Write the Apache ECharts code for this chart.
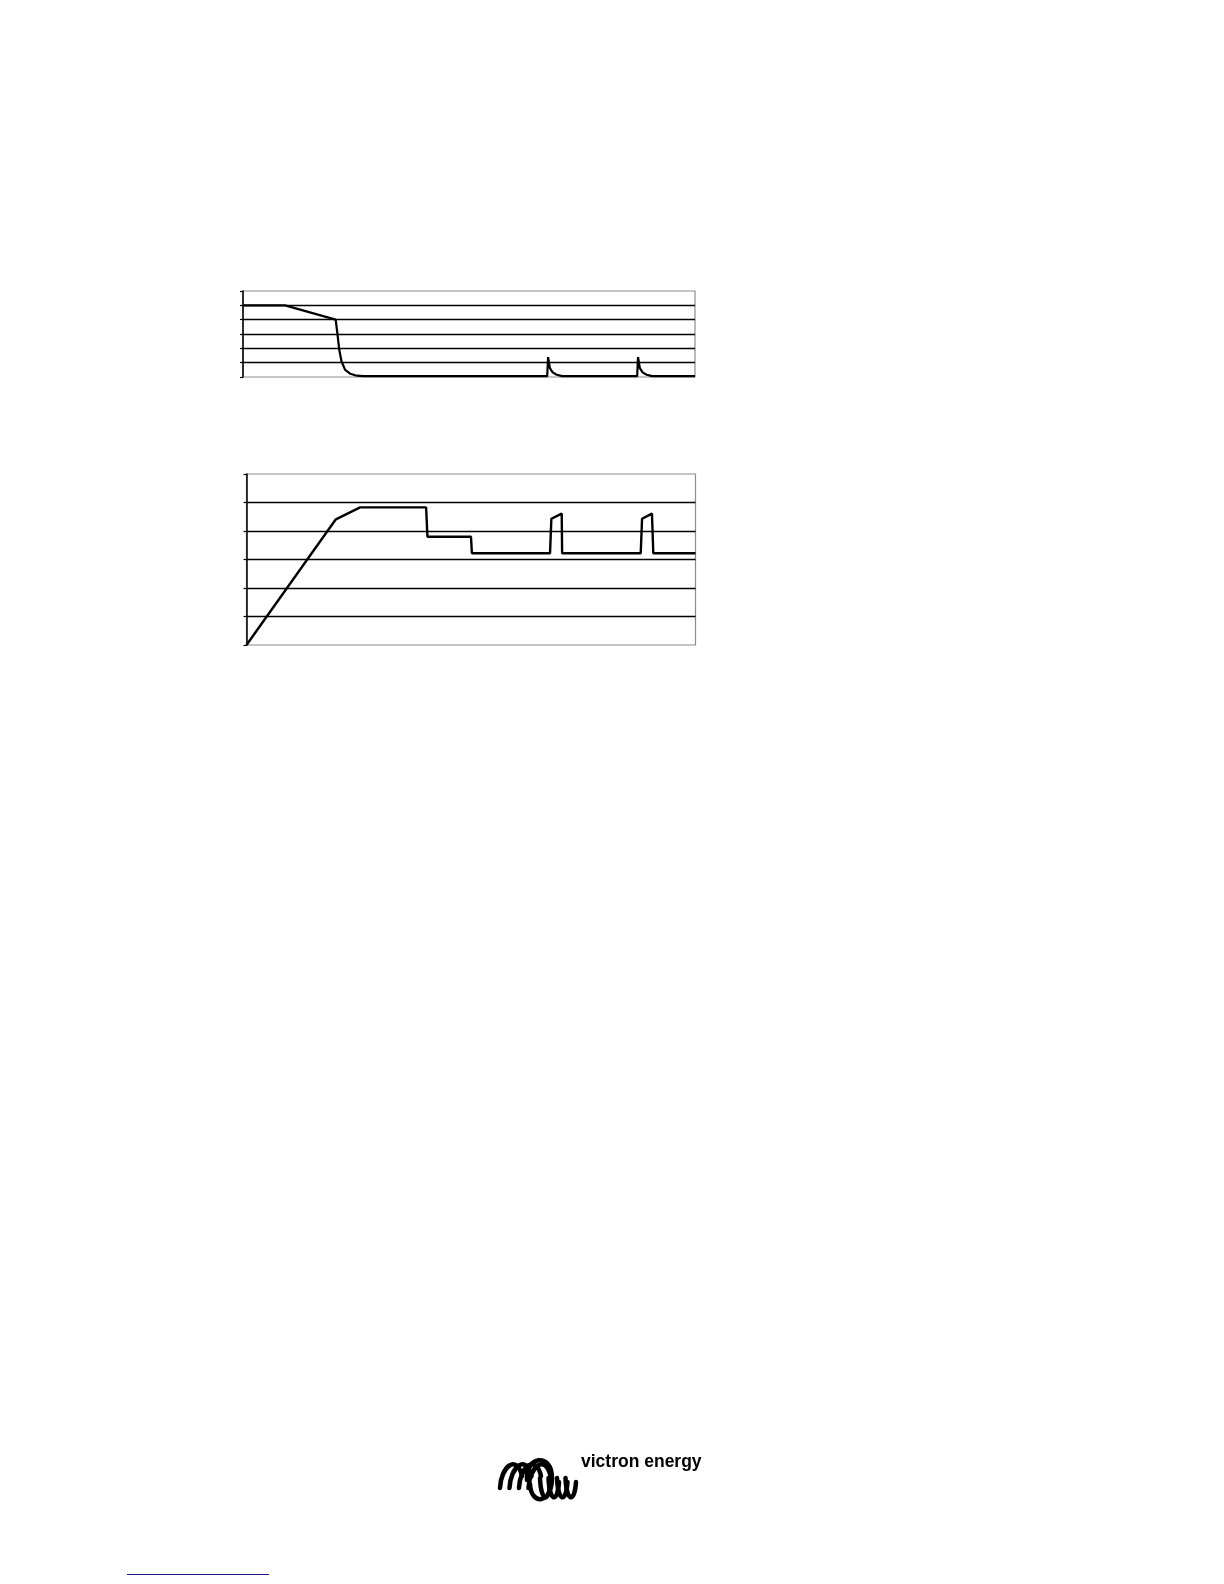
<!DOCTYPE html>
<html>
<head>
<meta charset="utf-8">
<script src="https://cdn.jsdelivr.net/npm/echarts@6/dist/echarts.min.js"></script>
<style>
html,body{margin:0;padding:0;background:#fff;}
#main{width:1224px;height:1584px;}
</style>
</head>
<body>
<div id="main"></div>
<script>
// Top chart: charge current over time (time in % of width, value in grid units)
var time1 =    [0, 9.3, 20.5, 20.9, 21.3, 21.8, 22.6, 23.7, 25.2, 26.6, 67.3, 67.5, 67.9, 68.5, 69.4, 70.6, 87.2, 87.4, 87.8, 88.4, 89.3, 90.5, 100];
var current1 = [5, 5,   4,    3.0,  1.9,  1.08, 0.5,  0.23, 0.09, 0.06, 0.06, 1.39, 0.62, 0.32, 0.16, 0.06, 0.06, 1.39, 0.62, 0.32, 0.16, 0.06, 0.06];

// Bottom chart: charge voltage over time
var time2 =    [0, 19.9, 25.3, 40.0, 40.3, 50.0, 50.2, 67.6, 67.9, 70.2, 70.3, 87.8, 88.1, 90.3, 90.6, 100];
var voltage2 = [0, 4.41, 4.83, 4.83, 3.8,  3.8,  3.22, 3.22, 4.43, 4.61, 3.22, 3.22, 4.43, 4.61, 3.22, 3.22];

var yTicks = [0, 1, 2, 3, 4, 5, 6];

function pairs(xs, ys){ return xs.map(function(x,i){ return [x, ys[i]]; }); }

var chart = echarts.init(document.getElementById('main'), null, {renderer:'canvas'});

function yAxis(idx){
  return {
    type:'value', gridIndex: idx, min: yTicks[0], max: yTicks[yTicks.length-1], interval: 1,
    axisLabel:{show:false},
    axisLine:{show:true, lineStyle:{color:'#000', width:1.5}},
    axisTick:{show:true, inside:false, length:3, lineStyle:{color:'#000', width:1.2}},
    splitLine:{show:true, showMinLine:false, showMaxLine:false, lineStyle:{color:'#000', width:1.4}}
  };
}
function xAxis(idx){
  return {
    type:'value', gridIndex: idx, min:0, max:100,
    axisLabel:{show:false}, axisLine:{show:false}, axisTick:{show:false}, splitLine:{show:false}
  };
}

// Victron coil logo (decorative)
var logo = [];
function curve(x1, y1, c1x, c1y, c2x, c2y, x2, y2) {
  logo.push({type:'bezierCurve', shape:{x1:x1, y1:y1, cpx1:c1x, cpy1:c1y, cpx2:c2x, cpy2:c2y, x2:x2, y2:y2},
    style:{stroke:'#000', lineWidth:4.5, fill:null, lineCap:'round'}, z:10});
}
var dy = 18;
for (var i = 0; i < 4; i++) {
  var x0 = 500 + 9.5 * i;
  curve(x0, 1470 + dy, x0 + 1, 1448 + dy, x0 + 17, 1436 + dy, x0 + 22, 1458 + dy);
}
curve(527, 1462 + dy, 525, 1438 + dy, 552, 1434 + dy, 552, 1460 + dy);
curve(552, 1460 + dy, 552, 1486 + dy, 531, 1488 + dy, 530, 1466 + dy);
for (var j = 0; j < 4; j++) {
  var x1 = 540 + 8.5 * j;
  curve(x1, 1460 + dy, x1 + 1, 1484 + dy, x1 + 9, 1486 + dy, x1 + 10.5, 1464 + dy);
}
logo.push({type:'text', style:{text:'victron energy', x:581, y:1462, font:'bold 17.5px "Liberation Sans", Arial, sans-serif', fill:'#000', verticalAlign:'middle'}, z:10});
logo.push({type:'line', shape:{x1:127, y1:1574.5, x2:269, y2:1574.5}, style:{stroke:'#1a1a8a', lineWidth:1.2}});

chart.setOption({
  animation:false,
  backgroundColor:'#ffffff',
  grid:[
    {left:243, top:291, width:452, height:86, show:true, borderColor:'#8c8c8c', borderWidth:1.2, backgroundColor:'transparent'},
    {left:246.5, top:474, width:449, height:171, show:true, borderColor:'#8c8c8c', borderWidth:1.2, backgroundColor:'transparent'}
  ],
  xAxis:[xAxis(0), xAxis(1)],
  yAxis:[yAxis(0), yAxis(1)],
  series:[
    {type:'line', xAxisIndex:0, yAxisIndex:0, data:pairs(time1, current1), showSymbol:false, smooth:false,
     lineStyle:{color:'#000', width:2.2}, z:5},
    {type:'line', xAxisIndex:1, yAxisIndex:1, data:pairs(time2, voltage2), showSymbol:false, smooth:false,
     lineStyle:{color:'#000', width:2.4}, z:5}
  ],
  graphic: logo
});
</script>
</body>
</html>
